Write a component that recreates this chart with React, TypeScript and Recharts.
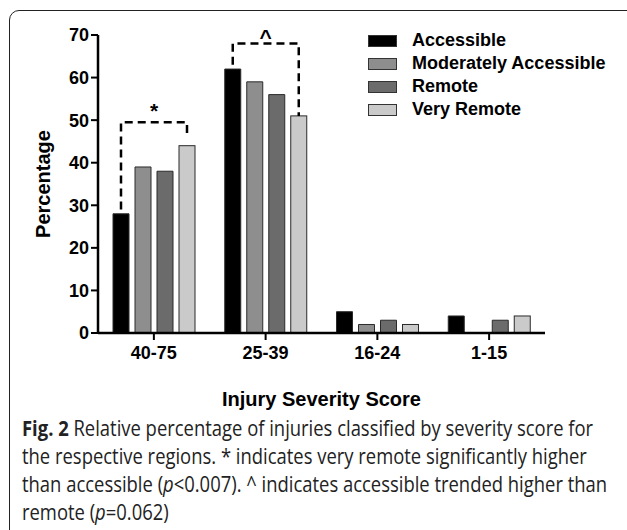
import React from 'react';
import { BarChart, Bar, XAxis, YAxis, Legend } from 'recharts';

const categories = ['40-75', '25-39', '16-24', '1-15'];
const accessible = [28, 62, 5, 4];
const moderatelyAccessible = [39, 59, 2, 0];
const remote = [38, 56, 3, 3];
const veryRemote = [44, 51, 2, 4];
const yTicks = [0, 10, 20, 30, 40, 50, 60, 70];

// significance brackets: category, bracket level (%), symbol
const bracketCategories = ['40-75', '25-39'];
const bracketLevels = [49.5, 68];
const bracketSymbols = ['*', '^'];

const data = categories.map((c, i) => ({
  category: c,
  accessible: accessible[i],
  moderatelyAccessible: moderatelyAccessible[i],
  remote: remote[i],
  veryRemote: veryRemote[i],
}));

const BAR_GAP = 6;
const FONT = "'Liberation Sans', Arial, sans-serif";

const BracketShape = (props: any) => {
  const { x, y, width, height, fill, payload } = props;
  const rect = (
    <rect x={x} y={y} width={width} height={height} fill={fill} stroke="#2a2a2a" strokeWidth={1} />
  );
  const bi = bracketCategories.indexOf(payload.category);
  if (bi < 0 || !payload.veryRemote) return rect;
  const base = y + height;
  const k = height / payload.veryRemote;
  const toY = (v: number) => base - v * k;
  const xr = x + width / 2;
  const xl = xr - 3 * (width + BAR_GAP);
  const lvl = toY(bracketLevels[bi]);
  const yl = toY(payload.accessible + 1);
  const yr = toY(payload.veryRemote + (bi === 0 ? 1.8 : 0));
  return (
    <g>
      {rect}
      <path
        d={`M${xl},${yl} L${xl},${lvl} L${xr},${lvl} L${xr},${yr}`}
        fill="none"
        stroke="#000"
        strokeWidth={2.5}
        strokeDasharray="8 5"
      />
      <text
        x={(xl + xr) / 2}
        y={lvl - (bi === 0 ? 4 : 0)}
        textAnchor="middle"
        fontFamily={FONT}
        fontWeight="bold"
        fontSize={21}
        fill="#000"
      >
        {bracketSymbols[bi]}
      </text>
    </g>
  );
};

const LegendContent = (props: any) => {
  const { payload } = props;
  return (
    <div style={{ fontFamily: FONT }}>
      {(payload || []).map((p: any, i: number) => (
        <div key={i} style={{ display: 'flex', alignItems: 'center', height: 23 }}>
          <div
            style={{
              width: 27,
              height: 10,
              background: p.color,
              border: '1px solid #333',
              marginRight: 15,
            }}
          />
          <span style={{ fontSize: 18, fontWeight: 'bold', color: '#000' }}>{p.value}</span>
        </div>
      ))}
    </div>
  );
};

export default function App() {
  return (
    <div style={{ position: 'absolute', left: 0, top: 0, width: 627, height: 530, background: '#fff', overflow: 'hidden' }}>
      <div
        style={{
          position: 'absolute',
          left: 9,
          top: 10,
          width: 640,
          height: 560,
          border: '1.5px solid #222',
          borderRadius: 10,
        }}
      />
      <div style={{ position: 'absolute', left: 0, top: 0 }}>
        <BarChart
          width={627}
          height={420}
          data={data}
          margin={{ top: 35, right: 82, bottom: 0, left: 0 }}
          barGap={BAR_GAP}
          barCategoryGap={15}
        >
          <XAxis
            dataKey="category"
            axisLine={{ stroke: '#000', strokeWidth: 2.5 }}
            tickLine={{ stroke: '#000', strokeWidth: 2 }}
            tickSize={7}
            tickMargin={6}
            tick={{ fill: '#000', fontSize: 18, fontWeight: 'bold', fontFamily: FONT }}
            height={87}
            label={{
              value: 'Injury Severity Score',
              position: 'insideBottom',
              offset: 14,
              style: { fill: '#000', fontSize: 20, fontWeight: 'bold', fontFamily: FONT },
            }}
          />
          <YAxis
            domain={[0, 70]}
            ticks={yTicks}
            width={98}
            axisLine={{ stroke: '#000', strokeWidth: 2.5 }}
            tickLine={{ stroke: '#000', strokeWidth: 2 }}
            tickSize={7}
            tickMargin={2}
            tick={{ fill: '#000', fontSize: 18, fontWeight: 'bold', fontFamily: FONT }}
            label={{
              value: 'Percentage',
              angle: -90,
              position: 'insideLeft',
              offset: 43,
              style: { fill: '#000', fontSize: 20, fontWeight: 'bold', fontFamily: FONT, textAnchor: 'middle' },
            }}
          />
          <Legend
            layout="vertical"
            verticalAlign="middle"
            align="center"
            content={<LegendContent />}
            wrapperStyle={{ position: 'absolute', left: 368, top: 29, width: 250 }}
          />
          <Bar dataKey="accessible" name="Accessible" fill="#000000" stroke="#2a2a2a" isAnimationActive={false} />
          <Bar dataKey="moderatelyAccessible" name="Moderately Accessible" fill="#8e8e8e" stroke="#2a2a2a" isAnimationActive={false} />
          <Bar dataKey="remote" name="Remote" fill="#6b6b6b" stroke="#2a2a2a" isAnimationActive={false} />
          <Bar dataKey="veryRemote" name="Very Remote" fill="#cacaca" stroke="#2a2a2a" isAnimationActive={false} shape={<BracketShape />} />
        </BarChart>
      </div>
      <div
        style={{
          position: 'absolute',
          left: 22,
          top: 414,
          fontFamily: "'Open Sans', sans-serif",
          fontSize: 21,
          lineHeight: '28px',
          color: '#222',
          whiteSpace: 'nowrap',
          transform: 'scaleX(0.877)',
          transformOrigin: 'left top',
        }}
      >
        <b style={{ fontWeight: 700 }}>Fig. 2</b> Relative percentage of injuries classified by severity score for
        <br />
        the respective regions. * indicates very remote significantly higher
        <br />
        than accessible (<i>p</i>&lt;0.007). ^ indicates accessible trended higher than
        <br />
        remote (<i>p</i>=0.062)
      </div>
    </div>
  );
}
